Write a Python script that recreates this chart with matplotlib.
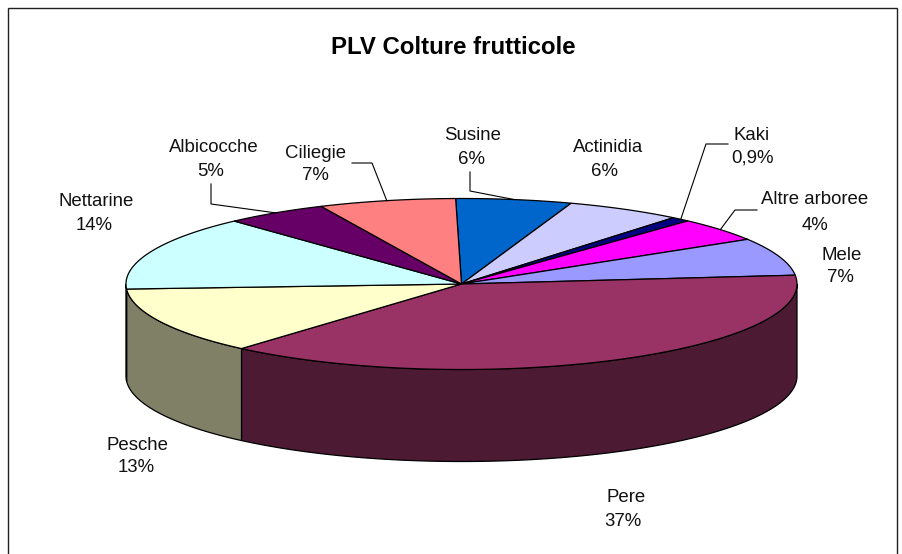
import numpy as np
import matplotlib
matplotlib.use("Agg")
import matplotlib.pyplot as plt
from matplotlib.patches import Polygon, Rectangle

plt.rcParams['font.family'] = ['Liberation Sans', 'DejaVu Sans']

# slices, clockwise from the top
names = ["Susine", "Actinidia", "Kaki", "Altre arboree", "Mele", "Pere", "Pesche", "Nettarine", "Albicocche", "Ciliegie"]
values = [5.5, 5.5, 0.9, 4.4, 7.0, 37.49, 12.5, 13.9, 4.9, 6.5]
pct_labels = ["6%", "6%", "0,9%", "4%", "7%", "37%", "13%", "14%", "5%", "7%"]
colors = ["#0066CC", "#CCCCFF", "#000080", "#FF00FF", "#9999FF", "#993366", "#FFFFCC", "#CCFFFF", "#660066", "#FF8080"]

# label centres in pixels: name x, name y, pct x, pct y
label_pos = [
    (473, 135, 472, 159),
    (608, 147, 605, 171),
    (752, 135, 753, 158),
    (815, 200, 815, 225),
    (842, 255, 840, 278),
    (626, 498, 623, 522),
    (138, 445, 136, 468),
    (96, 202, 94, 226),
    (214, 148, 211, 172),
    (316, 153, 315, 176),
]

# leader lines: slice index -> points before the rim
leaders = {
    0: [(470, 172), (470, 191)],
    2: [(728, 144), (706, 144)],
    3: [(757, 210), (735, 210)],
    8: [(211, 184), (211, 204)],
    9: [(352, 163), (372, 163)],
}

cx, cy = 461.5, 284
rx, ry = 335.5, 85.5
depth = 92
start = -1.0


def rim(a):
    a = np.radians(a)
    return cx + rx * np.sin(a), cy - ry * np.cos(a)


def rim_pts(a0, a1):
    t = np.linspace(a0, a1, max(int(abs(a1 - a0)) * 2, 2) + 1)
    x, y = rim(t)
    return np.column_stack([x, y])


def darker(c):
    rgb = matplotlib.colors.to_rgb(c)
    return tuple(v * 0.5 for v in rgb)


fig = plt.figure(figsize=(9.03, 5.54), dpi=100)
ax = fig.add_axes([0, 0, 1, 1])
ax.set_xlim(0, 903)
ax.set_ylim(554, 0)
ax.axis("off")

ax.add_patch(Rectangle((8.5, 7.5), 889, 560, fc="white", ec="#222222", lw=1.0, zorder=0))

edges = start + np.cumsum([0] + values) / sum(values) * 360

# wall, only the front half shows
for i in range(len(values)):
    a0 = max(edges[i], 90)
    a1 = min(edges[i + 1], 270)
    if a1 <= a0:
        continue
    top = rim_pts(a0, a1)
    bottom = top[::-1] + [0, depth]
    ax.add_patch(Polygon(np.vstack([top, bottom]), closed=True, fc=darker(colors[i]), ec="black", lw=0.9, zorder=2))

# top face
for i in range(len(values)):
    pts = np.vstack([[cx, cy], rim_pts(edges[i], edges[i + 1])])
    ax.add_patch(Polygon(pts, closed=True, fc=colors[i], ec="black", lw=0.9, zorder=3))

for i, pts in leaders.items():
    mid = (edges[i] + edges[i + 1]) / 2
    xs = [p[0] for p in pts] + [rim(mid)[0]]
    ys = [p[1] for p in pts] + [rim(mid)[1]]
    ax.plot(xs, ys, color="black", lw=0.8, zorder=4)

for i in range(len(names)):
    nx, ny, px, py = label_pos[i]
    ax.text(nx, ny, names[i], ha="center", va="center", fontsize=13.4, color="#111111", zorder=5)
    ax.text(px, py, pct_labels[i], ha="center", va="center", fontsize=13.4, color="#111111", zorder=5)

ax.text(453.5, 47.5, "PLV Colture frutticole", ha="center", va="center", fontsize=17.3, fontweight="bold", color="black")

fig.savefig("out.png", dpi=100)
